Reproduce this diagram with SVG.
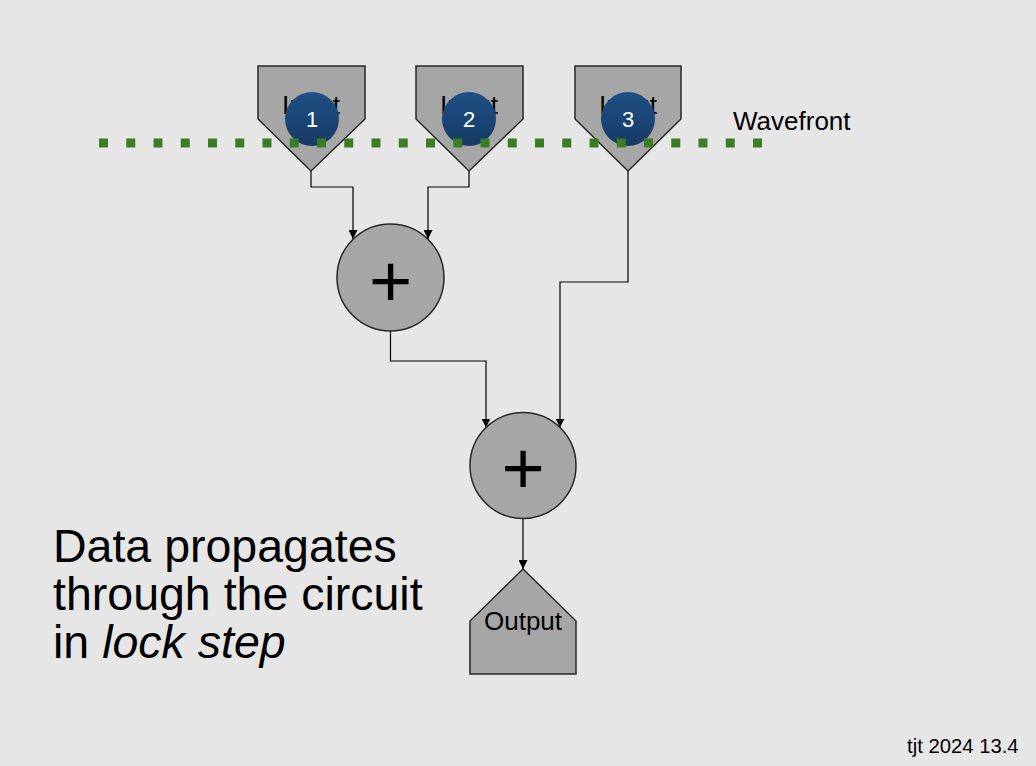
<svg xmlns="http://www.w3.org/2000/svg" width="1036" height="766" viewBox="0 0 1036 766">
<defs>
<style>
.shape{fill:#a6a6a6;stroke:#262626;stroke-width:1.5}
.lbl{font-family:"Liberation Sans",Arial,sans-serif;fill:#000}
.num{font-family:"Liberation Sans",Arial,sans-serif;fill:#fff;font-size:22px;text-anchor:middle}
.tok{fill:url(#blue)}
.conn{fill:none;stroke:#000;stroke-width:1.2}
</style>
<linearGradient id="blue" x1="0" y1="0" x2="0" y2="1">
<stop offset="0" stop-color="#1f5085"/>
<stop offset="1" stop-color="#183a66"/>
</linearGradient>
<marker id="arr" viewBox="0 0 10 10" refX="10" refY="5" markerWidth="9" markerHeight="9" markerUnits="userSpaceOnUse" orient="auto">
<path d="M0,0 L10,5 L0,10 Z" fill="#000"/>
</marker>
</defs>
<rect width="1036" height="766" fill="#e6e6e6"/>

<g id="connectors">
<path class="conn" d="M311,171 V187 H353 V239" marker-end="url(#arr)"/>
<path class="conn" d="M469,171 V187 H428 V239" marker-end="url(#arr)"/>
<path class="conn" d="M390.5,331 V361 H486 V427.5" marker-end="url(#arr)"/>
<path class="conn" d="M628,171 V282 H560 V427.5" marker-end="url(#arr)"/>
<path class="conn" d="M523,518 V569" marker-end="url(#arr)"/>
</g>

<g id="input1">
<path class="shape" d="M258,66 H365 V119 L311,171 L258,119 Z"/>
<text class="lbl" x="311" y="114" font-size="26" text-anchor="middle">Input</text>
</g>
<g id="input2">
<path class="shape" d="M416,66 H523 V119 L469,171 L416,119 Z"/>
<text class="lbl" x="469" y="114" font-size="26" text-anchor="middle">Input</text>
</g>
<g id="input3">
<path class="shape" d="M575,66 H681 V119 L628,171 L575,119 Z"/>
<text class="lbl" x="628" y="114" font-size="26" text-anchor="middle">Input</text>
</g>

<g id="token1">
<circle class="tok" cx="312" cy="119" r="27"/>
<text class="num" x="312" y="127">1</text>
</g>
<g id="token2">
<circle class="tok" cx="469" cy="119" r="27"/>
<text class="num" x="469" y="127">2</text>
</g>
<g id="token3">
<circle class="tok" cx="628" cy="119" r="27"/>
<text class="num" x="628" y="127">3</text>
</g>

<g id="wavefront">
<line x1="99" y1="143" x2="762" y2="143" stroke="#3a7d22" stroke-width="9" stroke-dasharray="9 18.25"/>
<text class="lbl" x="733" y="130" font-size="26">Wavefront</text>
</g>

<g id="add1">
<circle class="shape" cx="390.5" cy="277.5" r="53.5"/>
<text class="lbl" x="390.5" y="307" font-size="74" text-anchor="middle">+</text>
</g>
<g id="add2">
<circle class="shape" cx="523" cy="465.5" r="53"/>
<text class="lbl" x="523" y="494" font-size="74" text-anchor="middle">+</text>
</g>

<g id="output">
<path class="shape" d="M523,569 L576,621 V674 H470 V621 Z"/>
<text class="lbl" x="523" y="630" font-size="26" text-anchor="middle">Output</text>
</g>

<g id="caption">
<text class="lbl" x="53" y="562" font-size="46.5">Data propagates</text>
<text class="lbl" x="53" y="610" font-size="46.5">through the circuit</text>
<text class="lbl" x="53" y="658" font-size="46.5">in <tspan font-style="italic">lock step</tspan></text>
</g>
<text class="lbl" x="907" y="753" font-size="20.3">tjt 2024 13.4</text>
</svg>
